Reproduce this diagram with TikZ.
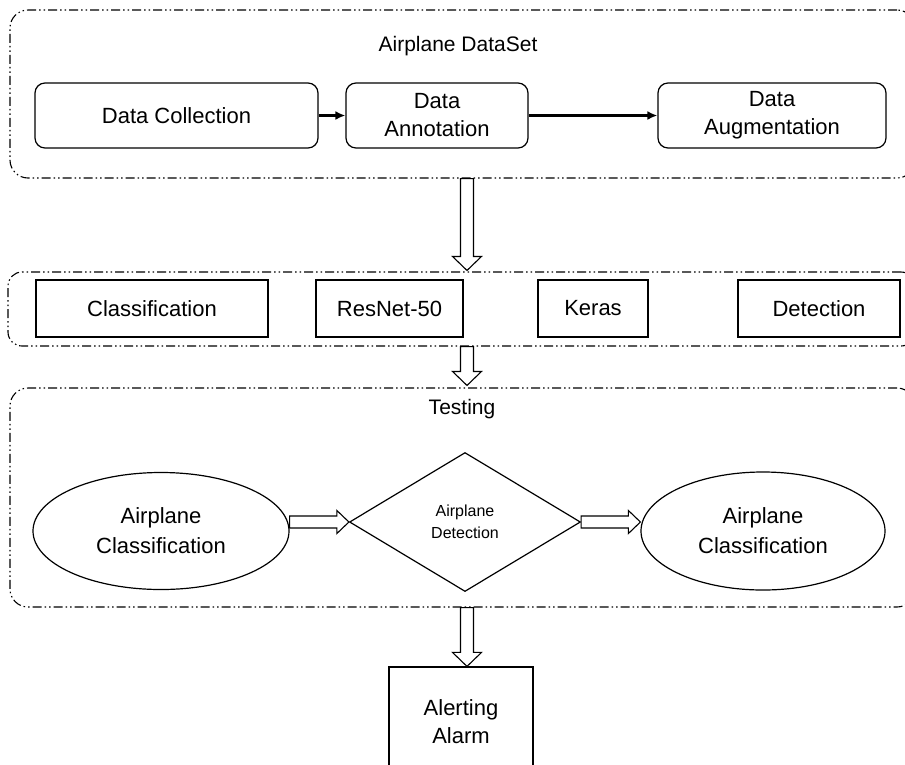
\documentclass[tikz,border=0pt]{standalone}
\usepackage{fontspec}
\setmainfont{Liberation Sans}
\usetikzlibrary{shapes.geometric,arrows.meta,calc}
\tikzset{
  grp/.style={draw, line width=1.1pt, rounded corners=18pt,
    dash pattern=on 9pt off 3pt on 1.5pt off 3pt on 1.5pt off 3pt, inner sep=0pt},
  lbl/.style={font=\fontsize{21}{26}\selectfont},
  rbox/.style={draw, line width=1.2pt, rounded corners=10pt, align=center,
    font=\fontsize{22}{28}\selectfont, inner sep=0pt},
  sbox/.style={draw, line width=1.2pt, align=center,
    font=\fontsize{22}{28}\selectfont, inner sep=0pt},
  oval/.style={ellipse, draw, line width=1.2pt, align=center, inner sep=0pt,
    font=\fontsize{22}{30}\selectfont},
  dmd/.style={diamond, draw, line width=1.2pt, align=center, inner sep=0pt,
    font=\fontsize{16}{22}\selectfont},
  hollow/.style={draw, line width=1.1pt, fill=white, line join=miter},
  solidarrow/.style={line width=2.2pt, -{Latex[length=10pt,width=9pt]}}
}
\newcommand\harrowV[2]{\path[hollow] let \p1=(#1), \p2=(#2) in
  (\x1-6.5pt,\y1) -- (\x1-6.5pt,\y2+14pt) -- (\x1-14.5pt,\y2+14pt) -- (\x1,\y2)
  -- (\x1+14.5pt,\y2+14pt) -- (\x1+6.5pt,\y2+14pt) -- (\x1+6.5pt,\y1) -- cycle;}
\newcommand\harrowH[2]{\path[hollow] let \p1=(#1), \p2=(#2) in
  (\x1,\y1+6pt) -- (\x2-12pt,\y1+6pt) -- (\x2-12pt,\y1+11.5pt) -- (\x2,\y1)
  -- (\x2-12pt,\y1-11.5pt) -- (\x2-12pt,\y1-6pt) -- (\x1,\y1-6pt) -- cycle;}
\begin{document}
\begin{tikzpicture}[x=1pt,y=-1pt]
\useasboundingbox (0,0) rectangle (905,764);
\clip (0,0) rectangle (905,764);

% group 1
\node[grp, minimum width=905pt, minimum height=168pt] (g1) at (462.5,94) {};
\node[lbl] (t1) at (458,46) {Airplane DataSet};
\node[rbox, minimum width=283pt, minimum height=65pt] (dc) at (176.5,115.5) {Data Collection};
\node[rbox, minimum width=182pt, minimum height=65pt] (da) at (437,115.5) {Data\\Annotation};
\node[rbox, minimum width=228pt, minimum height=65pt] (dg) at (772,115.5) {Data\\Augmentation};
\draw[solidarrow] (dc) -- (da);
\draw[solidarrow] (da) -- (dg);

% group 2
\node[grp, rounded corners=14pt, minimum width=907pt, minimum height=74pt] (g2) at (461.5,309) {};
\node[sbox, minimum width=232pt, minimum height=57pt] (cl) at (152,308.5) {Classification};
\node[sbox, minimum width=147pt, minimum height=57pt] (rn) at (389.5,308.5) {ResNet-50};
\node[sbox, minimum width=110pt, minimum height=57pt] (ke) at (593,308.5) {Keras};
\node[sbox, minimum width=162pt, minimum height=57pt] (de) at (819,308.5) {Detection};

% group 3
\node[grp, minimum width=905pt, minimum height=219pt] (g3) at (462.5,497.5) {};
\node[lbl] (t3) at (462,409) {Testing};
\node[oval, minimum width=256pt, minimum height=117pt] (lo) at (161,531) {Airplane\\Classification};
\node[dmd, minimum width=231pt, minimum height=139pt] (dt) at (465,522) {Airplane\\Detection};
\node[oval, minimum width=244pt, minimum height=118pt] (ro) at (763,531) {Airplane\\Classification};
\harrowH{lo.east |- dt.west}{dt.west}
\harrowH{dt.east}{ro.west |- dt.east}

% alarm
\node[sbox, minimum width=144pt, minimum height=110pt] (al) at (461,722) {Alerting\\Alarm};

% hollow arrows between groups
\harrowV{$(g1.south)+(4.5,0)$}{$(g2.north)+(4.5,-1)$}
\harrowV{$(g2.south)+(5.5,0)$}{$(g3.north)+(5.5,-2)$}
\harrowV{$(g3.south)+(4.5,0)$}{$(al.north)+(4.5,0)$}
\end{tikzpicture}
\end{document}
